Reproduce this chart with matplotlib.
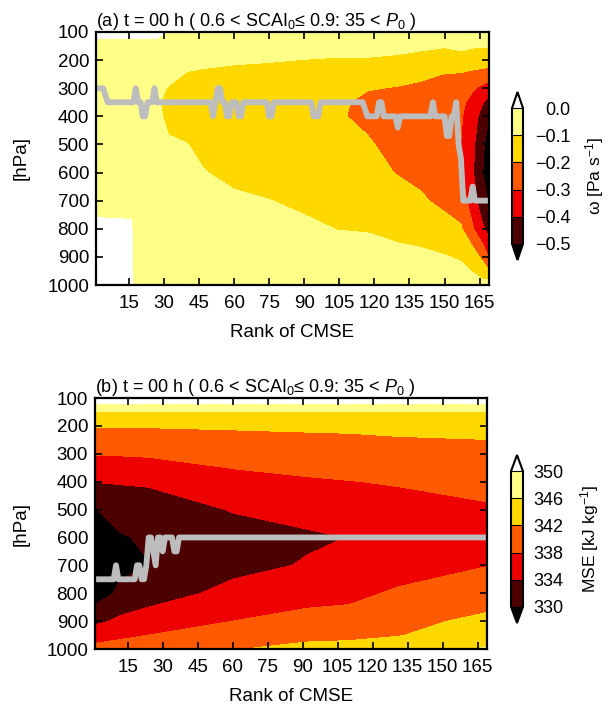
import numpy as np
import matplotlib
matplotlib.use('Agg')
import matplotlib.pyplot as plt

plt.rcParams['font.family'] = ['Liberation Sans', 'DejaVu Sans']
plt.rcParams['mathtext.fontset'] = 'custom'
plt.rcParams['mathtext.rm'] = 'Liberation Sans'
plt.rcParams['mathtext.it'] = 'Liberation Sans:italic'

# pressure levels of the composite profiles [hPa]
plev = [100, 125, 150, 200, 250, 300, 350, 400, 500, 600, 700, 800, 900, 950, 1000]

# (a) omega [Pa s-1] profiles, one profile per CMSE rank
omega_rank = [1, 16, 18, 27, 32, 40, 47, 60, 75, 90, 104, 117, 130, 140, 150, 157, 162, 166, 169]
omega_prof = [
    [0.05, -0.005, -0.05, -0.05, -0.05, -0.05, -0.05, -0.05, -0.05, -0.05, -0.03, 0.02, 0.03, 0.03, 0.03],
    [0.05, -0.005, -0.05, -0.05, -0.05, -0.05, -0.05, -0.05, -0.05, -0.05, -0.02, 0.01, 0.02, 0.02, 0.02],
    [0.05, -0.005, -0.05, -0.05, -0.05, -0.05, -0.05, -0.05, -0.05, -0.05, -0.05, -0.04, -0.03, -0.03, -0.03],
    [0.05, -0.005, -0.05, -0.06, -0.07, -0.08, -0.09, -0.08, -0.06, -0.05, -0.05, -0.04, -0.03, -0.03, -0.03],
    [-0.01, -0.03, -0.05, -0.06, -0.08, -0.105, -0.12, -0.12, -0.09, -0.06, -0.05, -0.04, -0.03, -0.03, -0.03],
    [-0.02, -0.04, -0.06, -0.08, -0.105, -0.13, -0.14, -0.14, -0.098, -0.07, -0.05, -0.04, -0.03, -0.03, -0.03],
    [-0.02, -0.04, -0.06, -0.085, -0.11, -0.14, -0.15, -0.15, -0.13, -0.095, -0.06, -0.04, -0.03, -0.03, -0.03],
    [-0.03, -0.05, -0.07, -0.09, -0.12, -0.15, -0.16, -0.16, -0.15, -0.13, -0.08, -0.05, -0.04, -0.03, -0.03],
    [-0.03, -0.05, -0.07, -0.095, -0.125, -0.16, -0.17, -0.17, -0.16, -0.14, -0.098, -0.06, -0.04, -0.035, -0.03],
    [-0.03, -0.05, -0.07, -0.102, -0.13, -0.16, -0.17, -0.18, -0.17, -0.15, -0.12, -0.08, -0.05, -0.04, -0.03],
    [-0.04, -0.06, -0.08, -0.105, -0.14, -0.17, -0.185, -0.19, -0.18, -0.16, -0.13, -0.102, -0.06, -0.05, -0.04],
    [-0.04, -0.06, -0.08, -0.105, -0.15, -0.195, -0.22, -0.22, -0.19, -0.17, -0.14, -0.105, -0.07, -0.05, -0.04],
    [-0.05, -0.07, -0.085, -0.11, -0.17, -0.205, -0.23, -0.24, -0.23, -0.205, -0.16, -0.12, -0.08, -0.06, -0.05],
    [-0.05, -0.07, -0.09, -0.12, -0.18, -0.22, -0.25, -0.26, -0.25, -0.22, -0.19, -0.13, -0.085, -0.06, -0.05],
    [-0.06, -0.08, -0.095, -0.14, -0.202, -0.24, -0.27, -0.285, -0.29, -0.27, -0.22, -0.17, -0.095, -0.07, -0.05],
    [-0.06, -0.08, -0.09, -0.12, -0.21, -0.25, -0.28, -0.29, -0.302, -0.29, -0.25, -0.19, -0.11, -0.08, -0.05],
    [-0.07, -0.09, -0.095, -0.13, -0.23, -0.29, -0.33, -0.36, -0.38, -0.39, -0.35, -0.29, -0.15, -0.105, -0.06],
    [-0.07, -0.09, -0.095, -0.14, -0.24, -0.32, -0.39, -0.43, -0.47, -0.49, -0.46, -0.38, -0.22, -0.14, -0.07],
    [-0.07, -0.085, -0.095, -0.15, -0.25, -0.35, -0.44, -0.49, -0.56, -0.57, -0.51, -0.44, -0.302, -0.20, -0.05],
]

# (a) level of strongest ascent, as runs: first rank of run, level [hPa]
wmin_start = [1, 5, 6, 18, 19, 21, 23, 26, 27, 51, 52, 53, 55, 57, 59, 62, 64, 75, 77,
              94, 97, 116, 117, 122, 124, 130, 131, 145, 146, 151, 153, 155, 156, 157, 158, 162, 163]
wmin_level = [300, 325, 350, 300, 350, 400, 350, 300, 350, 400, 350, 300, 350, 400, 350, 400, 350, 400, 350,
              400, 350, 375, 400, 350, 400, 440, 400, 350, 400, 470, 400, 350, 500, 550, 700, 650, 700]

# (b) MSE [kJ kg-1] profiles, one profile per CMSE rank
mse_rank = [1, 12, 24, 60, 92, 110, 131, 169]
mse_prof = [
    [352, 349.6, 345.8, 342.3, 340.0, 338.2, 336.0, 334.1, 329.9, 327.0, 326.0, 328.0, 333.0, 336.5, 339.0],
    [352, 349.6, 345.8, 342.3, 340.0, 338.3, 336.3, 334.3, 331.5, 329.7, 329.2, 330.8, 334.8, 337.3, 339.5],
    [352, 349.6, 345.8, 342.3, 340.0, 338.5, 336.5, 334.5, 332.0, 330.5, 329.9, 332.0, 336.0, 338.0, 340.0],
    [352, 349.6, 345.9, 342.6, 340.5, 339.2, 338.1, 336.6, 334.2, 332.5, 332.8, 335.2, 338.0, 340.0, 341.8],
    [352, 349.6, 346.0, 342.8, 341.0, 339.8, 338.7, 337.6, 335.2, 333.5, 334.3, 336.6, 339.2, 341.0, 343.0],
    [352, 349.6, 346.0, 342.9, 341.2, 340.0, 339.0, 337.9, 335.8, 334.05, 334.8, 336.9, 339.6, 341.2, 343.2],
    [352, 349.6, 346.0, 343.2, 341.6, 340.4, 339.3, 338.3, 336.6, 335.5, 336.0, 338.6, 341.0, 341.8, 344.0],
    [352, 349.6, 345.5, 343.6, 341.95, 340.8, 340.0, 339.3, 337.5, 336.8, 337.9, 340.2, 342.8, 344.4, 346.3],
]

# (b) level of MSE minimum, as runs: first rank of run, level [hPa]
mmin_start = [1, 10, 11, 19, 21, 23, 24, 26, 27, 28, 30, 31, 35, 37]
mmin_level = [750, 700, 750, 700, 750, 700, 600, 650, 700, 600, 650, 600, 650, 600]

omega_levels = [-0.5, -0.4, -0.3, -0.2, -0.1, 0.0]
mse_levels = [330, 334, 338, 342, 346, 350]
shade_colors = ['#4d0000', '#ee0000', '#ff5a00', '#ffd800', '#ffff88']
n_rank = 169

fig = plt.figure(figsize=(6.08, 7.07), dpi=100)
W, H = 608.0, 707.0


def draw_panel(ax_box, cax_box, rank, prof, levels, start, level, title, cb_label, cb_labels, cb_pad):
    ax = fig.add_axes(ax_box)
    cax = fig.add_axes(cax_box)
    z = np.array(prof).T
    cs = ax.contourf(rank, plev, z, levels=levels, colors=shade_colors, extend='both', antialiased=False)
    cs.cmap.set_under('black')
    cs.cmap.set_over('white')
    cs.changed()

    ranks = np.arange(1, n_rank + 1)
    runs = np.diff(start + [n_rank + 1])
    ax.plot(ranks, np.repeat(level, runs), color='#bdbdbd', lw=4.2,
            solid_joinstyle='round', solid_capstyle='butt')

    ax.set_xlim(1, 169)
    ax.set_ylim(1000, 100)
    ax.set_xticks(range(15, 166, 15))
    ax.set_yticks(range(100, 1001, 100))
    ax.tick_params(direction='in', top=True, right=True, length=5, width=1.2,
                   labelsize=13.5, pad=5)
    ax.tick_params(axis='x', pad=7)
    for s in ax.spines.values():
        s.set_linewidth(1.6)
    ax.set_title(title, loc='left', fontsize=13, pad=4)
    ax.set_xlabel('Rank of CMSE', fontsize=13.5)
    ax.set_ylabel('[hPa]', fontsize=13.5)
    ax.xaxis.set_label_coords(0.5, -0.155)
    ax.yaxis.set_label_coords(-0.168, 0.5)

    cb = fig.colorbar(cs, cax=cax, extendfrac=0.12, drawedges=True)
    cb.set_ticks(levels)
    cb.set_ticklabels(cb_labels)
    cb.ax.tick_params(length=0, labelsize=13, pad=cb_pad)
    for t in cb.ax.get_yticklabels():
        t.set_ha('right')
    cb.outline.set_linewidth(1.5)
    cb.dividers.set_linewidth(0.8)
    cb.set_label(cb_label, fontsize=12.5)
    return ax, cb


ax_a, cb_a = draw_panel([96 / W, 1 - 285 / H, 393 / W, 253 / H],
                        [512 / W, 1 - 260 / H, 11 / W, 168 / H],
                        omega_rank, omega_prof, omega_levels, wmin_start, wmin_level,
                        '(a) t = 00 h ( 0.6 < SCAI$_0$\u2264 0.9: 35 < $P_0$ )',
                        '\u03c9 [Pa s$^{-1}$]',
                        ['\u22120.5', '\u22120.4', '\u22120.3', '\u22120.2', '\u22120.1', '0.0'], 34)
cb_a.ax.yaxis.set_label_coords(6.5, 0.5)

ax_b, cb_b = draw_panel([95 / W, 1 - 649 / H, 392 / W, 251 / H],
                        [511 / W, 1 - 623 / H, 12 / W, 168 / H],
                        mse_rank, mse_prof, mse_levels, mmin_start, mmin_level,
                        '(b) t = 00 h ( 0.6 < SCAI$_0$\u2264 0.9: 35 < $P_0$ )',
                        'MSE [kJ kg$^{-1}$]',
                        ['330', '334', '338', '342', '346', '350'], 29)
cb_b.ax.yaxis.set_label_coords(5.6, 0.5)

fig.savefig('out.png', dpi=100)
